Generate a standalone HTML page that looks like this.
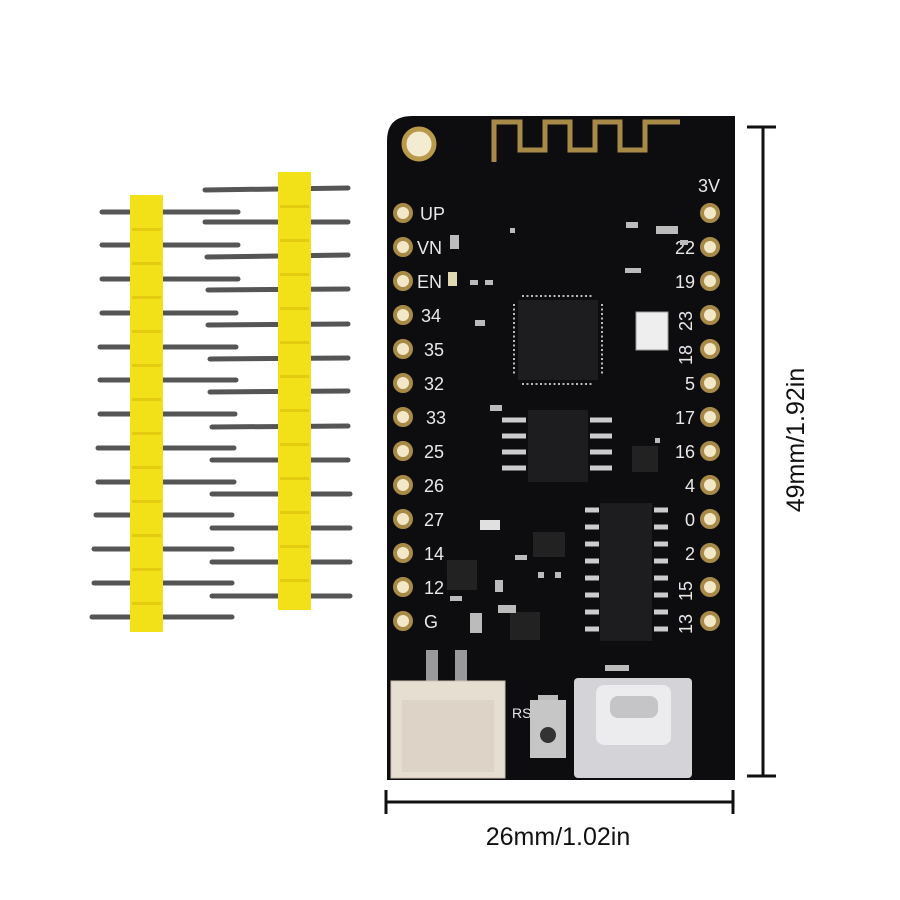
<!DOCTYPE html>
<html><head><style>html,body{margin:0;padding:0;background:#fff}svg{display:block}</style></head>
<body>
<svg width="900" height="900" viewBox="0 0 900 900" xmlns="http://www.w3.org/2000/svg" font-family="Liberation Sans, sans-serif">
<rect width="900" height="900" fill="#fff"/>
<g stroke="#555" stroke-width="5" stroke-linecap="round">
<line x1="102" y1="212" x2="238" y2="212"/><line x1="102" y1="245" x2="238" y2="245"/><line x1="102" y1="279" x2="238" y2="279"/><line x1="102" y1="313" x2="236" y2="313"/><line x1="100" y1="347" x2="236" y2="347"/><line x1="100" y1="380" x2="236" y2="380"/><line x1="100" y1="414" x2="235" y2="414"/><line x1="98" y1="448" x2="234" y2="448"/><line x1="98" y1="482" x2="234" y2="482"/><line x1="96" y1="515" x2="232" y2="515"/><line x1="94" y1="549" x2="232" y2="549"/><line x1="94" y1="583" x2="232" y2="583"/><line x1="92" y1="617" x2="232" y2="617"/>
<line x1="205" y1="190" x2="348" y2="188"/><line x1="205" y1="222" x2="348" y2="222"/><line x1="207" y1="257" x2="348" y2="255"/><line x1="208" y1="290" x2="348" y2="289"/><line x1="208" y1="325" x2="348" y2="324"/><line x1="210" y1="359" x2="348" y2="358"/><line x1="210" y1="392" x2="348" y2="391"/><line x1="212" y1="427" x2="348" y2="426"/><line x1="212" y1="460" x2="348" y2="460"/><line x1="212" y1="494" x2="350" y2="494"/><line x1="212" y1="528" x2="350" y2="528"/><line x1="212" y1="562" x2="350" y2="562"/><line x1="212" y1="596" x2="350" y2="596"/>
</g>
<rect x="130" y="195" width="33" height="437" fill="#f2e018"/>
<rect x="278" y="172" width="33" height="438" fill="#f2e018"/>
<g fill="#e3cc10">
<rect x="132" y="228" width="29" height="3"/><rect x="132" y="262" width="29" height="3"/><rect x="132" y="296" width="29" height="3"/><rect x="132" y="330" width="29" height="3"/><rect x="132" y="364" width="29" height="3"/><rect x="132" y="398" width="29" height="3"/><rect x="132" y="432" width="29" height="3"/><rect x="132" y="466" width="29" height="3"/><rect x="132" y="500" width="29" height="3"/><rect x="132" y="534" width="29" height="3"/><rect x="132" y="568" width="29" height="3"/><rect x="132" y="602" width="29" height="3"/>
<rect x="280" y="205" width="29" height="3"/><rect x="280" y="239" width="29" height="3"/><rect x="280" y="273" width="29" height="3"/><rect x="280" y="307" width="29" height="3"/><rect x="280" y="341" width="29" height="3"/><rect x="280" y="375" width="29" height="3"/><rect x="280" y="409" width="29" height="3"/><rect x="280" y="443" width="29" height="3"/><rect x="280" y="477" width="29" height="3"/><rect x="280" y="511" width="29" height="3"/><rect x="280" y="545" width="29" height="3"/><rect x="280" y="579" width="29" height="3"/>
</g>
<path d="M412 116 H735 V780 H387 V141 Q387 116 412 116 Z" fill="#0d0d0f"/>
<circle cx="419" cy="144" r="15" fill="#f4ecd0" stroke="#b89a4a" stroke-width="5"/>
<path d="M494 162 V122 H520 V150 H545 V122 H570 V150 H595 V122 H620 V150 H645 V122 H680" fill="none" stroke="#a88a48" stroke-width="5"/>
<g fill="#f2e8c8" stroke="#a88a48" stroke-width="4">
<circle cx="403" cy="213" r="8"/><circle cx="403" cy="247" r="8"/><circle cx="403" cy="281" r="8"/><circle cx="403" cy="315" r="8"/><circle cx="403" cy="349" r="8"/><circle cx="403" cy="383" r="8"/><circle cx="403" cy="417" r="8"/><circle cx="403" cy="451" r="8"/><circle cx="403" cy="485" r="8"/><circle cx="403" cy="519" r="8"/><circle cx="403" cy="553" r="8"/><circle cx="403" cy="587" r="8"/><circle cx="403" cy="621" r="8"/>
<circle cx="710" cy="213" r="8"/><circle cx="710" cy="247" r="8"/><circle cx="710" cy="281" r="8"/><circle cx="710" cy="315" r="8"/><circle cx="710" cy="349" r="8"/><circle cx="710" cy="383" r="8"/><circle cx="710" cy="417" r="8"/><circle cx="710" cy="451" r="8"/><circle cx="710" cy="485" r="8"/><circle cx="710" cy="519" r="8"/><circle cx="710" cy="553" r="8"/><circle cx="710" cy="587" r="8"/><circle cx="710" cy="621" r="8"/>
</g>
<g fill="#e8e8e8" font-size="18">
<text x="420" y="220">UP</text><text x="417" y="254">VN</text><text x="417" y="288">EN</text><text x="421" y="322">34</text><text x="424" y="356">35</text><text x="424" y="390">32</text><text x="426" y="424">33</text><text x="424" y="458">25</text><text x="424" y="492">26</text><text x="424" y="526">27</text><text x="424" y="560">14</text><text x="424" y="594">12</text><text x="424" y="628">G</text>
<g text-anchor="end"><text x="720" y="192">3V</text><text x="695" y="254">22</text><text x="695" y="288">19</text><text x="695" y="390">5</text><text x="695" y="424">17</text><text x="695" y="458">16</text><text x="695" y="492">4</text><text x="695" y="526">0</text><text x="695" y="560">2</text></g>
<text transform="translate(692,331) rotate(-90)">23</text><text transform="translate(692,365) rotate(-90)">18</text><text transform="translate(692,601) rotate(-90)">15</text><text transform="translate(692,634) rotate(-90)">13</text>
<text x="512" y="718" font-size="14">RST</text>
</g>
<rect x="518" y="300" width="80" height="80" fill="#1d1d20"/>
<g stroke="#bbb" stroke-width="2"><path d="M522 296 h72 M522 384 h72" stroke-dasharray="2 2.5"/><path d="M514 304 v72 M602 304 v72" stroke-dasharray="2 2.5"/></g>
<rect x="528" y="410" width="60" height="72" fill="#1d1d20"/>
<g stroke="#ccc" stroke-width="5"><path d="M502 420h24M502 436h24M502 452h24M502 468h24M590 420h22M590 436h22M590 452h22M590 468h22"/></g>
<rect x="600" y="503" width="52" height="138" fill="#1d1d20"/>
<g stroke="#ccc" stroke-width="5"><path d="M585 510h14M585 527h14M585 544h14M585 561h14M585 578h14M585 595h14M585 612h14M585 629h14M654 510h14M654 527h14M654 544h14M654 561h14M654 578h14M654 595h14M654 612h14M654 629h14"/></g>
<rect x="636" y="312" width="32" height="38" fill="#eee" stroke="#999"/>
<rect x="533" y="532" width="32" height="25" fill="#222"/>
<rect x="447" y="560" width="30" height="30" fill="#222"/>
<rect x="632" y="446" width="26" height="26" fill="#222"/>
<rect x="510" y="612" width="30" height="28" fill="#222"/>
<g fill="#bbb"><rect x="450" y="235" width="9" height="14"/><rect x="448" y="272" width="9" height="14" fill="#e0d8b0"/><rect x="626" y="222" width="12" height="6"/><rect x="656" y="226" width="22" height="8"/><rect x="480" y="520" width="20" height="10" fill="#e0e0e0"/><rect x="498" y="605" width="18" height="8"/><rect x="470" y="613" width="12" height="20"/>
<rect x="470" y="280" width="8" height="5"/><rect x="485" y="280" width="8" height="5"/><rect x="680" y="240" width="8" height="5"/><rect x="625" y="268" width="16" height="5"/><rect x="510" y="228" width="5" height="5"/><rect x="475" y="320" width="10" height="6"/><rect x="490" y="405" width="12" height="6"/><rect x="655" y="438" width="5" height="5"/><rect x="555" y="572" width="6" height="6"/><rect x="538" y="572" width="6" height="6"/><rect x="495" y="580" width="8" height="12"/><rect x="515" y="555" width="12" height="5"/><rect x="450" y="596" width="12" height="5"/><rect x="605" y="665" width="24" height="6"/><rect x="538" y="695" width="20" height="5"/></g>
<rect x="426" y="650" width="12" height="42" fill="#999"/><rect x="455" y="650" width="12" height="42" fill="#999"/>
<rect x="391" y="681" width="114" height="97" fill="#e7ded2" stroke="#c9bfb2"/>
<rect x="402" y="700" width="92" height="72" fill="#ddd3c6"/>
<rect x="530" y="700" width="36" height="58" fill="#c6c6c6"/>
<circle cx="548" cy="735" r="8" fill="#333"/>
<rect x="574" y="678" width="118" height="100" rx="4" fill="#d4d4d8"/>
<rect x="596" y="685" width="75" height="60" rx="8" fill="#ececef"/>
<rect x="610" y="696" width="48" height="22" rx="8" fill="#c5c5c8"/>
<g stroke="#111" stroke-width="3">
<line x1="763" y1="127" x2="763" y2="776"/><line x1="747" y1="127" x2="776" y2="127"/><line x1="747" y1="776" x2="776" y2="776"/>
<line x1="386" y1="802" x2="733" y2="802"/><line x1="386" y1="790" x2="386" y2="814"/><line x1="733" y1="790" x2="733" y2="814"/>
</g>
<text x="558" y="845" font-size="25" text-anchor="middle" fill="#111">26mm/1.02in</text>
<text transform="translate(804,440) rotate(-90)" font-size="25" text-anchor="middle" fill="#111">49mm/1.92in</text>
</svg>
</body></html>
